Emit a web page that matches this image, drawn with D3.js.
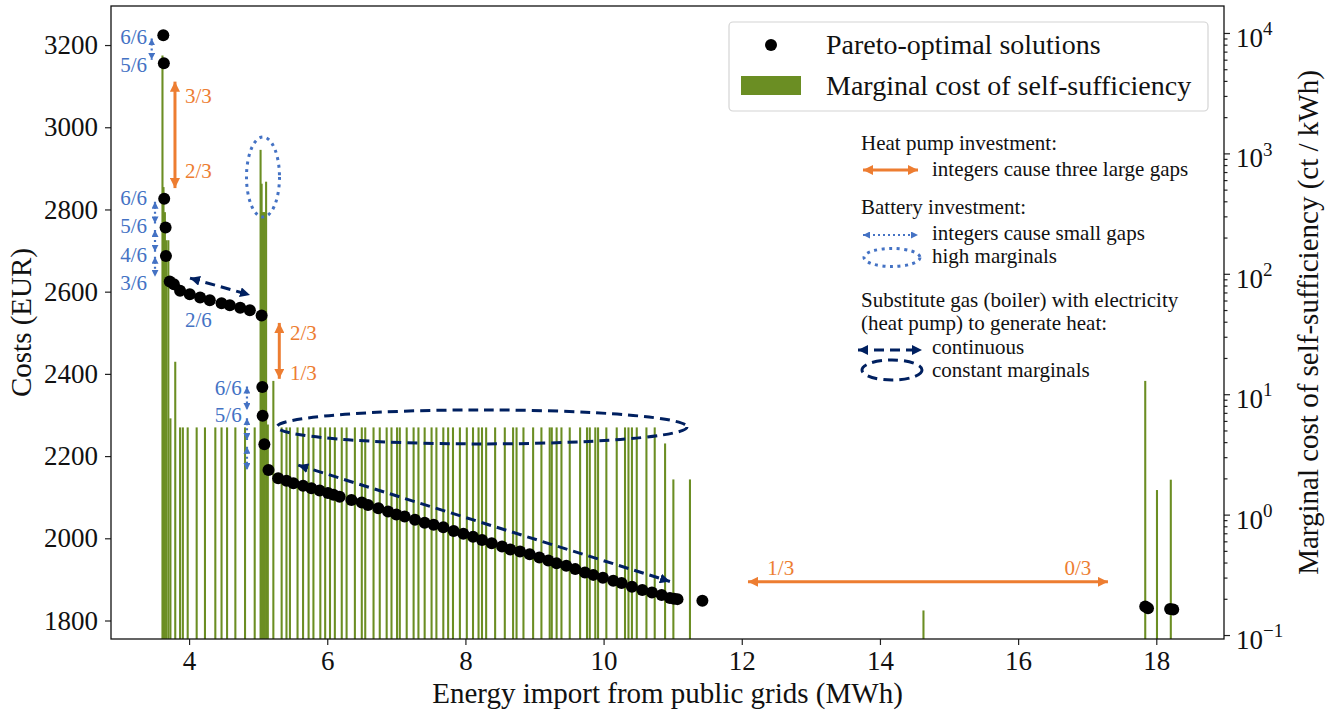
<!DOCTYPE html>
<html>
<head>
<meta charset="utf-8">
<script src="https://cdn.jsdelivr.net/npm/d3@7"></script>
<style>
body { margin: 0; background: #fff; }
svg text { font-family: "Liberation Serif", "DejaVu Serif", serif; fill: #111; }
</style>
</head>
<body>
<svg id="canvas" width="1344" height="716"></svg>
<script>
// Pareto-optimal solutions (energy import in MWh, costs in EUR)
let paretoImport = [3.627, 3.635, 3.64, 3.66, 3.665, 3.72, 3.78, 3.87, 4.01, 4.16, 4.30, 4.47, 4.59, 4.74, 4.88, 5.05,
    5.06, 5.065, 5.09, 5.15, 5.29, 5.41, 5.51, 5.65, 5.77, 5.89, 6.01, 6.09, 6.18, 6.35, 6.50, 6.59, 6.74, 6.88,
    7.00, 7.12, 7.27, 7.41, 7.54, 7.68, 7.83, 7.97, 8.11, 8.24, 8.38, 8.53, 8.65, 8.79, 8.93, 9.07, 9.20, 9.32,
    9.46, 9.59, 9.73, 9.85, 9.99, 10.14, 10.26, 10.41, 10.56, 10.70, 10.84, 10.96, 11.02, 11.07, 11.43,
    17.84, 17.88, 18.20, 18.245]
let paretoCost = [3224, 3156, 2826, 2756, 2687, 2625, 2618, 2602, 2594, 2586, 2579, 2572, 2567, 2561, 2555, 2542,
    2368, 2298, 2229, 2166, 2146, 2140, 2134, 2128, 2122, 2116, 2110, 2106, 2101, 2093, 2087, 2081, 2073, 2065,
    2058, 2053, 2045, 2038, 2033, 2027, 2018, 2011, 2004, 1996, 1988, 1980, 1973, 1968, 1961, 1953, 1946, 1939,
    1933, 1925, 1917, 1911, 1904, 1897, 1891, 1882, 1874, 1868, 1862, 1855, 1853, 1852, 1848,
    1834, 1830, 1828, 1827]

// marginal cost of self-sufficiency (energy import in MWh, ct/kWh)
let marginalImport = [3.615, 3.63, 3.65, 3.67, 3.70, 3.73, 3.80, 3.87, 3.91, 3.98, 4.11, 4.23, 4.38, 4.47, 4.55, 4.67,
    4.81, 4.95, 5.035, 5.05, 5.065, 5.08, 5.095, 5.115, 5.14, 5.22, 5.34, 5.41, 5.46, 5.57, 5.65, 5.73, 5.80,
    5.90, 5.97, 6.04, 6.11, 6.21, 6.28, 6.40, 6.50, 6.55, 6.67, 6.76, 6.86, 6.93, 7.01, 7.05, 7.15, 7.25, 7.32,
    7.41, 7.51, 7.58, 7.68, 7.75, 7.82, 7.92, 8.02, 8.11, 8.19, 8.24, 8.30, 8.43, 8.57, 8.69, 8.74, 8.84, 8.98,
    9.10, 9.22, 9.25, 9.32, 9.39, 9.51, 9.66, 9.76, 9.80, 9.88, 9.92, 10.04, 10.19, 10.31, 10.36, 10.41, 10.48,
    10.62, 10.74, 10.89, 11.01, 11.25, 14.63, 17.84, 18.01, 18.21]
let marginalCost = [6500, 525, 325, 190, 190, 6.3, 18.6, 5.3, 5.3, 5.3, 5.3, 5.3, 5.3, 5.3, 5.3, 5.3,
    5.3, 5.3, 1070, 560, 325, 325, 325, 582, 5.6, 12.9, 5.3, 5.3, 5.3, 5.3, 5.3, 5.3, 5.3,
    5.3, 5.3, 5.3, 5.3, 5.3, 5.3, 5.3, 5.3, 5.3, 5.3, 5.3, 5.3, 5.3, 5.3, 5.3, 5.3, 5.3, 5.3,
    5.3, 5.3, 5.3, 5.3, 5.3, 5.3, 5.3, 5.3, 5.3, 5.3, 5.3, 5.3, 5.3, 5.3, 5.3, 5.3, 5.3, 5.3,
    5.3, 5.3, 5.3, 5.3, 5.3, 5.3, 5.3, 5.3, 5.3, 5.3, 5.3, 5.3, 5.3, 5.3, 5.3, 5.3, 5.3,
    5.3, 5.3, 3.9, 1.96, 1.96, 0.16, 12.9, 1.6, 1.95]

let importTicks = [4, 6, 8, 10, 12, 14, 16, 18]
let costTicks = [1800, 2000, 2200, 2400, 2600, 2800, 3000, 3200]
let marginalTicks = [0.1, 1, 10, 100, 1000, 10000]
let marginalExponents = ['−1', '0', '1', '2', '3', '4']

let orange = '#ed7d31'
let blue = '#4472c4'
let navy = '#002060'
let green = '#6b8e23'

let plotLeft = 111, plotRight = 1224, plotTop = 6, plotBottom = 639

let svg = d3.select('#canvas')

let x = d3.scaleLinear().domain([2.87, 18.98]).range([plotLeft, plotRight])
let yCost = d3.scaleLinear().domain([1755, 3295]).range([plotBottom, plotTop])
let yMarg = d3.scaleLog().domain([0.0927, 16750]).range([plotBottom, plotTop])

// arrow heads
let defs = svg.append('defs')
let addMarker = (id, color, size) => {
    defs.append('marker')
        .attr('id', id)
        .attr('viewBox', '0 0 10 10')
        .attr('refX', 10)
        .attr('refY', 5)
        .attr('markerUnits', 'userSpaceOnUse')
        .attr('markerWidth', size)
        .attr('markerHeight', size)
        .attr('orient', 'auto-start-reverse')
        .append('path')
        .attr('d', 'M0,0 L10,5 L0,10 z')
        .attr('fill', color)
}
addMarker('headOrange', orange, 10)
addMarker('headBlue', blue, 7)
addMarker('headNavy', navy, 10)

defs.append('clipPath').attr('id', 'plotClip')
    .append('rect')
    .attr('x', plotLeft).attr('y', plotTop)
    .attr('width', plotRight - plotLeft).attr('height', plotBottom - plotTop)

// bars of marginal cost
let barWidth = 0.03
svg.append('g')
    .attr('clip-path', 'url(#plotClip)')
    .selectAll('rect')
    .data(marginalImport)
    .enter()
    .append('rect')
    .attr('x', (d) => x(d - barWidth / 2))
    .attr('width', x(barWidth) - x(0))
    .attr('y', (d, i) => yMarg(marginalCost[i]))
    .attr('height', (d, i) => plotBottom - yMarg(marginalCost[i]))
    .attr('fill', green)

// annotations inside the plot (in data units)
let ann = svg.append('g')

let arrow = (x1, y1, x2, y2, color, width, dash, head) => {
    ann.append('line')
        .attr('x1', x(x1)).attr('y1', yCost(y1))
        .attr('x2', x(x2)).attr('y2', yCost(y2))
        .attr('stroke', color)
        .attr('stroke-width', width)
        .attr('stroke-dasharray', dash)
        .attr('marker-start', 'url(#' + head + ')')
        .attr('marker-end', 'url(#' + head + ')')
}
let label = (tx, ty, str, color, anchor) => {
    ann.append('text')
        .attr('x', x(tx)).attr('y', yCost(ty))
        .attr('dy', '0.33em')
        .attr('text-anchor', anchor)
        .attr('font-size', 21)
        .style('fill', color)
        .text(str)
}

// heat pump (orange)
arrow(3.796, 3111, 3.796, 2852, orange, 3, null, 'headOrange')
arrow(5.306, 2524, 5.306, 2388, orange, 3, null, 'headOrange')
arrow(12.09, 1894, 17.30, 1894, orange, 3, null, 'headOrange')
label(3.94, 3076, '3/3', orange, 'start')
label(3.94, 2894, '2/3', orange, 'start')
label(5.46, 2500, '2/3', orange, 'start')
label(5.46, 2402, '1/3', orange, 'start')
label(12.37, 1928, '1/3', orange, 'start')
label(17.06, 1928, '0/3', orange, 'end')

// battery (blue dotted)
arrow(3.459, 3216, 3.459, 3164, blue, 2.2, '2,3', 'headBlue')
arrow(3.507, 2819, 3.507, 2766, blue, 2.2, '2,3', 'headBlue')
arrow(3.507, 2750, 3.507, 2697, blue, 2.2, '2,3', 'headBlue')
arrow(3.507, 2685, 3.507, 2636, blue, 2.2, '2,3', 'headBlue')
arrow(4.838, 2369, 4.838, 2312, blue, 2.2, '2,3', 'headBlue')
arrow(4.838, 2292, 4.838, 2239, blue, 2.2, '2,3', 'headBlue')
arrow(4.838, 2223, 4.838, 2166, blue, 2.2, '2,3', 'headBlue')
label(3.391, 3220, '6/6', blue, 'end')
label(3.391, 3152, '5/6', blue, 'end')
label(3.391, 2828, '6/6', blue, 'end')
label(3.391, 2760, '5/6', blue, 'end')
label(3.391, 2689, '4/6', blue, 'end')
label(3.391, 2621, '3/6', blue, 'end')
label(3.94, 2531, '2/6', blue, 'start')
label(4.762, 2366, '6/6', blue, 'end')
label(4.762, 2300, '5/6', blue, 'end')

ann.append('ellipse')
    .attr('cx', x(5.07)).attr('cy', yCost(2879))
    .attr('rx', 16.5).attr('ry', 40)
    .attr('fill', 'none')
    .attr('stroke', blue)
    .attr('stroke-width', 3)
    .attr('stroke-dasharray', '3,4.5')

// substitution (navy dashed)
arrow(4.013, 2633, 4.882, 2592, navy, 3, '10,6', 'headNavy')
arrow(5.58, 2178, 10.96, 1895, navy, 3, '10,6', 'headNavy')
ann.append('ellipse')
    .attr('cx', x(8.24)).attr('cy', yCost(2271))
    .attr('rx', 205).attr('ry', 17)
    .attr('fill', 'none')
    .attr('stroke', navy)
    .attr('stroke-width', 3)
    .attr('stroke-dasharray', '10,6')

// Pareto points
svg.append('g')
    .selectAll('circle')
    .data(paretoImport)
    .enter()
    .append('circle')
    .attr('cx', (d) => x(d))
    .attr('cy', (d, i) => yCost(paretoCost[i]))
    .attr('r', 6)
    .attr('fill', '#000')

// axes
let styleAxis = (g, size) => {
    g.select('.domain').remove()
    g.selectAll('line').attr('stroke', '#222').attr('stroke-width', 1.2)
    g.selectAll('text')
        .attr('font-family', '"Liberation Serif", serif')
        .attr('font-size', size)
}

let xAxis = svg.append('g')
    .attr('transform', 'translate(0,' + plotBottom + ')')
    .call(d3.axisBottom(x).tickValues(importTicks).tickFormat(d3.format('d')).tickSize(6).tickPadding(6).tickSizeOuter(0))
styleAxis(xAxis, 27)

let yAxis = svg.append('g')
    .attr('transform', 'translate(' + plotLeft + ',0)')
    .call(d3.axisLeft(yCost).tickValues(costTicks).tickFormat(d3.format('d')).tickSize(6).tickPadding(7).tickSizeOuter(0))
styleAxis(yAxis, 27)

let minorTicks = []
marginalTicks.slice(0, -1).forEach((t) => {
    [2, 3, 4, 5, 6, 7, 8, 9].forEach((m) => minorTicks.push(t * m))
})
let rMinor = svg.append('g')
    .attr('transform', 'translate(' + plotRight + ',0)')
    .call(d3.axisRight(yMarg).tickValues(minorTicks).tickSize(3.5).tickFormat('').tickSizeOuter(0))
styleAxis(rMinor, 1)

let rAxis = svg.append('g')
    .attr('transform', 'translate(' + plotRight + ',0)')
    .call(d3.axisRight(yMarg).tickValues(marginalTicks).tickSize(6).tickPadding(6).tickSizeOuter(0).tickFormat(''))
styleAxis(rAxis, 27)
rAxis.selectAll('.tick text').each(function (d, i) {
    let t = d3.select(this)
    t.attr('dy', '0.5em')
    t.append('tspan').text('10')
    t.append('tspan').attr('dy', '-0.62em').attr('font-size', 19).text(marginalExponents[i])
})

// frame
svg.append('rect')
    .attr('x', plotLeft).attr('y', plotTop)
    .attr('width', plotRight - plotLeft).attr('height', plotBottom - plotTop)
    .attr('fill', 'none')
    .attr('stroke', '#111')
    .attr('stroke-width', 1.3)

// axis titles
svg.append('text')
    .attr('x', (plotLeft + plotRight) / 2).attr('y', 703)
    .attr('text-anchor', 'middle')
    .attr('font-size', 29)
    .text('Energy import from public grids (MWh)')
svg.append('text')
    .attr('transform', 'translate(31,' + (plotTop + plotBottom) / 2 + ') rotate(-90)')
    .attr('text-anchor', 'middle')
    .attr('font-size', 29)
    .text('Costs (EUR)')
svg.append('text')
    .attr('transform', 'translate(1318,' + (plotTop + plotBottom) / 2 + ') rotate(-90)')
    .attr('text-anchor', 'middle')
    .attr('font-size', 29)
    .text('Marginal cost of self-sufficiency (ct / kWh)')

// explanation block on the right
let notes = svg.append('g')
let note = (tx, ty, str) => {
    notes.append('text').attr('x', tx).attr('y', ty).attr('font-size', 21).text(str)
}
let noteLine = (x1, x2, ly, color, width, dash, head) => {
    notes.append('line')
        .attr('x1', x1).attr('x2', x2).attr('y1', ly).attr('y2', ly)
        .attr('stroke', color).attr('stroke-width', width)
        .attr('stroke-dasharray', dash)
        .attr('marker-start', 'url(#' + head + ')')
        .attr('marker-end', 'url(#' + head + ')')
}
note(861, 150, 'Heat pump investment:')
noteLine(863, 918, 170, orange, 3, null, 'headOrange')
note(932, 176, 'integers cause three large gaps')
note(861, 214, 'Battery investment:')
noteLine(863, 918, 235, blue, 2.2, '2,3', 'headBlue')
note(932, 240, 'integers cause small gaps')
notes.append('ellipse')
    .attr('cx', 892).attr('cy', 257.5).attr('rx', 28).attr('ry', 9)
    .attr('fill', 'none').attr('stroke', blue).attr('stroke-width', 3).attr('stroke-dasharray', '3,4.5')
note(932, 263, 'high marginals')
note(861, 307, 'Substitute gas (boiler) with electricity')
note(861, 330, '(heat pump) to generate heat:')
noteLine(858, 922, 350, navy, 3, '10,6', 'headNavy')
note(932, 354, 'continuous')
notes.append('ellipse')
    .attr('cx', 892).attr('cy', 370).attr('rx', 30).attr('ry', 10)
    .attr('fill', 'none').attr('stroke', navy).attr('stroke-width', 3).attr('stroke-dasharray', '10,6')
note(932, 377, 'constant marginals')

// legend
let legend = svg.append('g')
legend.append('rect')
    .attr('x', 729).attr('y', 22)
    .attr('width', 479).attr('height', 89)
    .attr('rx', 4)
    .attr('fill', 'rgba(255,255,255,0.85)')
    .attr('stroke', '#d4d4d4')
    .attr('stroke-width', 1.2)
legend.append('circle').attr('cx', 771).attr('cy', 45).attr('r', 6).attr('fill', '#000')
legend.append('rect').attr('x', 741).attr('y', 76).attr('width', 60).attr('height', 19).attr('fill', green)
legend.append('text').attr('x', 826).attr('y', 54).attr('font-size', 28).text('Pareto-optimal solutions')
legend.append('text').attr('x', 826).attr('y', 95).attr('font-size', 28).text('Marginal cost of self-sufficiency')
</script>
</body>
</html>
